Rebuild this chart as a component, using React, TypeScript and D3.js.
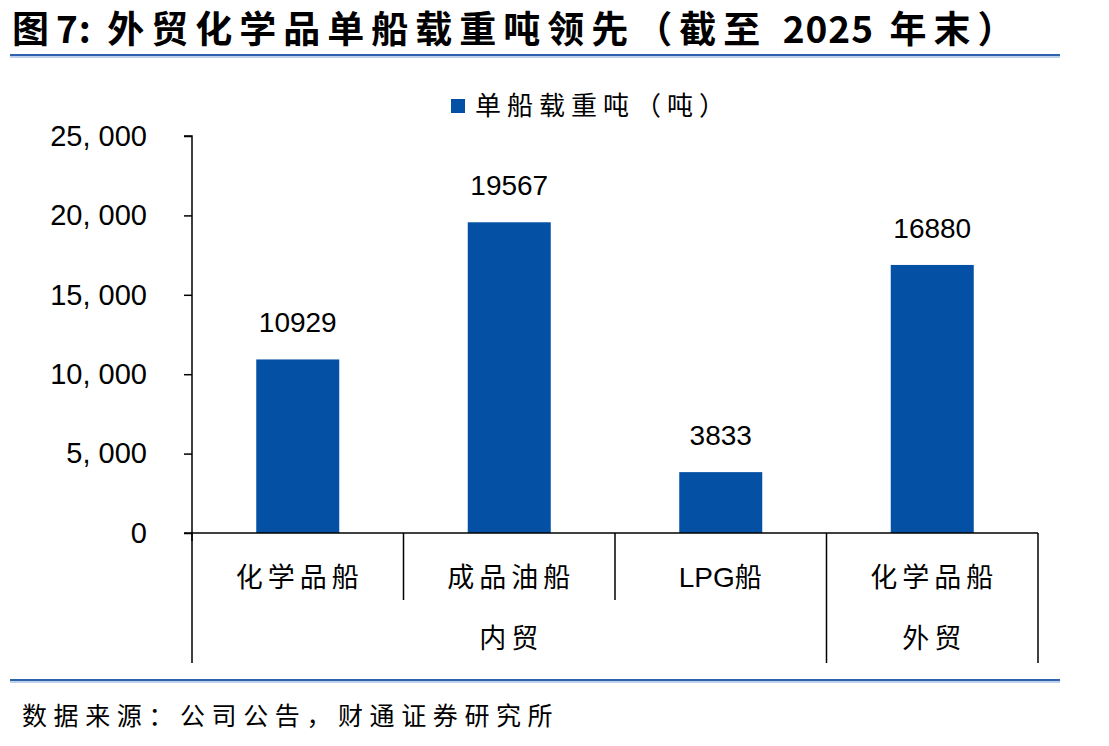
import React, { useRef, useEffect } from 'react'
import * as d3 from 'd3'

const categories = ['化学品船', '成品油船', 'LPG船', '化学品船']
const groups = [
    { name: '内贸', span: 3 },
    { name: '外贸', span: 1 },
]
const tonnage = [10929, 19567, 3833, 16880]
const yTicks = [0, 5000, 10000, 15000, 20000, 25000]
const seriesName = '单船载重吨（吨）'
const title = '图7: 外贸化学品单船载重吨领先（截至 2025 年末）'
const source = '数据来源：公司公告，财通证券研究所'

const W = 1109
const H = 746
const BLUE = '#0350a4'
const CJK = '"Noto Sans CJK SC", sans-serif'
const LATIN = '"Liberation Sans", Arial, sans-serif'

// split a label into latin / cjk runs so the spacing can differ
const runs = (s: string) => s.match(/[A-Za-z0-9:]+|[^A-Za-z0-9:]+/g) || []

const App = () => {
    const ref = useRef<SVGSVGElement>(null)

    useEffect(() => {
        if (!ref.current) return
        const svg = d3.select(ref.current)
        svg.selectAll('*').remove()

        const left = 192, right = 1038, top = 136, bottom = 533

        const x = d3.scaleBand<number>()
            .domain(d3.range(categories.length))
            .range([left, right])
            .paddingInner(0)
            .paddingOuter(0)
        const y = d3.scaleLinear().domain([0, 25000]).range([bottom, top])

        // title + rules
        const tt = svg.append('text')
            .attr('x', 12).attr('y', 43)
            .attr('font-family', CJK).attr('font-weight', 'bold')
            .attr('font-size', 37)
        runs(title).forEach(p => {
            const latin = /[A-Za-z0-9]/.test(p)
            tt.append('tspan').attr('letter-spacing', latin ? 1 : 7).text(p)
        })
        const rule = (yy) => {
            svg.append('line').attr('x1', 10).attr('x2', 1060).attr('y1', yy).attr('y2', yy)
                .attr('stroke', '#2f62ad').attr('stroke-width', 2)
            svg.append('line').attr('x1', 10).attr('x2', 1060).attr('y1', yy + 2).attr('y2', yy + 2)
                .attr('stroke', '#a9c1e3').attr('stroke-width', 1.5)
        }
        rule(55)
        rule(680)

        // legend
        svg.append('rect').attr('x', 451).attr('y', 99).attr('width', 14).attr('height', 14).attr('fill', BLUE)
        svg.append('text')
            .attr('x', 475).attr('y', 115)
            .attr('font-family', CJK).attr('font-size', 26).attr('letter-spacing', 6)
            .text(seriesName)

        // y axis
        const yAxis = d3.axisLeft(y)
            .tickValues(yTicks)
            .tickSize(8)
            .tickPadding(37)
            .tickFormat(d => d3.format(',')(d as number).replace(',', ', '))
        const gy = svg.append('g').attr('transform', `translate(${left},0)`).call(yAxis)
        gy.select('.domain').attr('stroke', '#000').attr('stroke-width', 1.5)
            .attr('d', `M-8,${top}H0V${bottom + 8}`)
        gy.selectAll('.tick line').attr('stroke', '#000').attr('stroke-width', 1.5)
        gy.selectAll('.tick text')
            .attr('font-family', LATIN).attr('font-size', 29).attr('fill', '#000')

        // bars
        const bw = 83
        svg.selectAll('rect.bar').data(tonnage).enter().append('rect')
            .attr('class', 'bar')
            .attr('x', (d, i) => x(i) + x.bandwidth() / 2 - bw / 2)
            .attr('width', bw)
            .attr('y', d => y(d))
            .attr('height', d => y(0) - y(d))
            .attr('fill', BLUE)

        svg.selectAll('text.val').data(tonnage).enter().append('text')
            .attr('class', 'val')
            .attr('x', (d, i) => x(i) + x.bandwidth() / 2)
            .attr('y', d => y(d) - 27)
            .attr('text-anchor', 'middle')
            .attr('font-family', LATIN).attr('font-size', 28)
            .text(d => d)

        // x axis line
        svg.append('line').attr('x1', left - 8).attr('x2', right).attr('y1', bottom).attr('y2', bottom)
            .attr('stroke', '#000').attr('stroke-width', 1.5)

        // category separators
        const row1 = 600, row2 = 663
        const edges = d3.range(categories.length + 1).map(i => i < categories.length ? x(i) : right)
        let acc = 0
        const groupEdges = new Set([0])
        groups.forEach(g => { acc += g.span; groupEdges.add(acc) })
        edges.forEach((ex, i) => {
            svg.append('line').attr('x1', ex).attr('x2', ex)
                .attr('y1', bottom).attr('y2', groupEdges.has(i) ? row2 : row1)
                .attr('stroke', '#000').attr('stroke-width', 1.5)
        })

        const cat = svg.selectAll('text.cat').data(categories).enter().append('text')
            .attr('class', 'cat')
            .attr('x', (d, i) => x(i) + x.bandwidth() / 2 + 2)
            .attr('y', 587)
            .attr('text-anchor', 'middle')
            .attr('font-family', CJK).attr('font-size', 27)
        cat.each(function (d) {
            const t = d3.select(this)
            runs(d).forEach(p => {
                const latin = /[A-Za-z0-9]/.test(p)
                t.append('tspan')
                    .attr('font-family', latin ? LATIN : CJK)
                    .attr('letter-spacing', latin ? 0 : 5)
                    .attr('font-size', latin ? 28 : 27)
                    .text(p)
            })
        })

        acc = 0
        groups.forEach(g => {
            const x0 = x(acc)
            const x1 = acc + g.span < categories.length ? x(acc + g.span) : right
            svg.append('text')
                .attr('x', (x0 + x1) / 2 + 2).attr('y', 648)
                .attr('text-anchor', 'middle')
                .attr('font-family', CJK).attr('font-size', 27).attr('letter-spacing', 5)
                .text(g.name)
            acc += g.span
        })

        // source
        svg.append('text')
            .attr('x', 22).attr('y', 725)
            .attr('font-family', CJK).attr('font-size', 25).attr('letter-spacing', 6.6)
            .text(source)
    }, [])

    return (
        <svg ref={ref} width={W} height={H}
            style={{ position: 'absolute', left: 0, top: 0, background: '#fff' }} />
    )
}

export default App
